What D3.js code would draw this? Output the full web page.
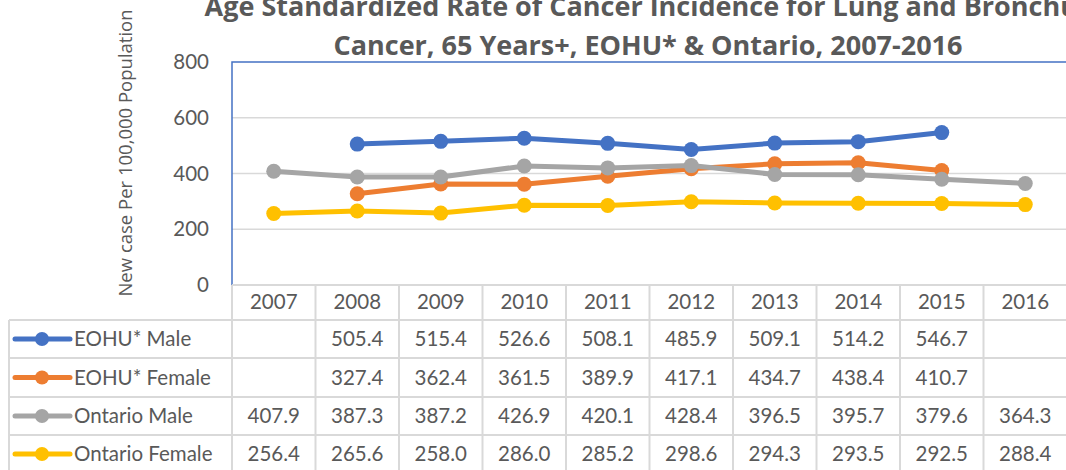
<!DOCTYPE html>
<html>
<head>
<meta charset="utf-8">
<script src="https://cdn.jsdelivr.net/npm/d3@7"></script>
<style>
  body { margin: 0; background: #fff; }
  svg { display: block; }
  .tick text { fill: #595959; }
</style>
</head>
<body>
<div id="chart"></div>
<script>
const years = ['2007', '2008', '2009', '2010', '2011', '2012', '2013', '2014', '2015', '2016'];
const seriesNames = ['EOHU* Male', 'EOHU* Female', 'Ontario Male', 'Ontario Female'];
const seriesColors = ['#4472C4', '#ED7D31', '#A5A5A5', '#FFC000'];
const eohuMale = [null, 505.4, 515.4, 526.6, 508.1, 485.9, 509.1, 514.2, 546.7, null];
const eohuFemale = [null, 327.4, 362.4, 361.5, 389.9, 417.1, 434.7, 438.4, 410.7, null];
const ontarioMale = [407.9, 387.3, 387.2, 426.9, 420.1, 428.4, 396.5, 395.7, 379.6, 364.3];
const ontarioFemale = [256.4, 265.6, 258.0, 286.0, 285.2, 298.6, 294.3, 293.5, 292.5, 288.4];
const yTicks = [0, 200, 400, 600, 800];

const seriesValues = [eohuMale, eohuFemale, ontarioMale, ontarioFemale];

const width = 1066;
const height = 470;
const plot = {left: 232, top: 62, bottom: 285, colW: 83.5};
const rowH = [320, 358, 397, 435, 473];
const textColor = '#595959';
const gridColor = '#d9d9d9';
const bodyFont = 'Lato, "Open Sans", sans-serif';
const bodySize = '20.5px';

const svg = d3.select('#chart').append('svg')
  .attr('width', width)
  .attr('height', height);

// Scales
const xScale = d3.scaleBand()
  .domain(years)
  .range([plot.left, plot.left + plot.colW * years.length]);

const yScale = d3.scaleLinear()
  .domain([0, 800])
  .range([plot.bottom, plot.top]);

// gridlines
svg.append('g')
  .selectAll('line')
  .data(yTicks.filter(d => d > 0 && d < 800))
  .enter().append('line')
  .attr('x1', plot.left)
  .attr('x2', xScale.range()[1])
  .attr('y1', d => yScale(d))
  .attr('y2', d => yScale(d))
  .attr('stroke', gridColor)
  .attr('stroke-width', 1.5);

// plot area border
svg.append('rect')
  .attr('x', plot.left)
  .attr('y', plot.top)
  .attr('width', xScale.range()[1] - plot.left)
  .attr('height', plot.bottom - plot.top)
  .attr('fill', 'none')
  .attr('stroke', '#4472C4')
  .attr('stroke-width', 1.5);

// y axis labels
const yAxis = d3.axisLeft(yScale).tickValues(yTicks).tickSize(0).tickPadding(23);
const yAxisG = svg.append('g')
  .attr('transform', `translate(${plot.left}, 0)`)
  .call(yAxis);
yAxisG.select('.domain').remove();
yAxisG.selectAll('text')
  .style('font-family', bodyFont)
  .style('font-size', bodySize);

// y axis title
svg.append('text')
  .attr('transform', 'rotate(-90)')
  .attr('x', -153)
  .attr('y', 132)
  .attr('text-anchor', 'middle')
  .attr('fill', textColor)
  .style('font-family', '"Open Sans", sans-serif')
  .style('font-size', '18.5px')
  .text('New case Per 100,000 Population');

// Title
const titleLines = ['Age Standardized Rate of Cancer Incidence for Lung and Bronchus', 'Cancer, 65 Years+, EOHU* & Ontario, 2007-2016'];
svg.append('g')
  .selectAll('text')
  .data(titleLines)
  .enter().append('text')
  .attr('x', 648)
  .attr('y', (d, i) => 16 + i * 39)
  .attr('text-anchor', 'middle')
  .attr('fill', textColor)
  .style('font-family', '"Open Sans", sans-serif')
  .style('font-weight', 'bold')
  .style('font-size', '27px')
  .text(d => d);

// Data table grid
const tableRight = xScale.range()[1];
const grid = svg.append('g')
  .attr('stroke', gridColor)
  .attr('stroke-width', 2);

grid.append('line')
  .attr('x1', plot.left).attr('x2', tableRight)
  .attr('y1', plot.bottom).attr('y2', plot.bottom);

grid.selectAll('.hline')
  .data(rowH)
  .enter().append('line')
  .attr('x1', 9).attr('x2', tableRight)
  .attr('y1', d => d).attr('y2', d => d);

grid.selectAll('.vline')
  .data(years.concat(['end']))
  .enter().append('line')
  .attr('x1', (d, i) => plot.left + i * plot.colW)
  .attr('x2', (d, i) => plot.left + i * plot.colW)
  .attr('y1', plot.bottom)
  .attr('y2', height);

grid.append('line')
  .attr('x1', 9).attr('x2', 9)
  .attr('y1', rowH[0]).attr('y2', height);

// year header
const xAxis = d3.axisBottom(xScale).tickSize(0).tickPadding(0);
const xAxisG = svg.append('g')
  .attr('transform', `translate(0, 302)`)
  .call(xAxis);
xAxisG.select('.domain').remove();
xAxisG.selectAll('text')
  .attr('y', 0)
  .attr('dy', '0.36em')
  .style('font-family', bodyFont)
  .style('font-size', bodySize);

// rows
const rowCenter = i => (rowH[i] + rowH[i + 1]) / 2;

seriesNames.forEach((name, i) => {
  const cy = rowCenter(i);
  const row = svg.append('g');

  row.append('line')
    .attr('x1', 15).attr('x2', 70)
    .attr('y1', cy).attr('y2', cy)
    .attr('stroke', seriesColors[i])
    .attr('stroke-width', 5)
    .attr('stroke-linecap', 'round');
  row.append('circle')
    .attr('cx', 42).attr('cy', cy).attr('r', 7)
    .attr('fill', seriesColors[i]);
  row.append('text')
    .attr('x', 74).attr('y', cy)
    .attr('dy', '0.36em')
    .attr('fill', textColor)
    .style('font-family', bodyFont)
    .style('font-size', bodySize)
    .text(name);

  row.selectAll('.val')
    .data(seriesValues[i])
    .enter().append('text')
    .attr('x', (d, j) => xScale(years[j]) + xScale.bandwidth() / 2)
    .attr('y', cy)
    .attr('dy', '0.36em')
    .attr('text-anchor', 'middle')
    .attr('fill', textColor)
    .style('font-family', bodyFont)
    .style('font-size', bodySize)
    .text(d => d == null ? '' : d.toFixed(1));
});

// lines
const line = d3.line()
  .defined(d => d.v != null)
  .x(d => xScale(d.year) + xScale.bandwidth() / 2)
  .y(d => yScale(d.v));

const seriesData = seriesValues.map(vals => vals.map((v, j) => ({year: years[j], v})));

const seriesG = svg.append('g')
  .selectAll('g')
  .data(seriesData)
  .enter().append('g');

seriesG.append('path')
  .attr('d', d => line(d))
  .attr('fill', 'none')
  .attr('stroke', (d, i) => seriesColors[i])
  .attr('stroke-width', 5)
  .attr('stroke-linejoin', 'round');

seriesG.each(function(d, i) {
  d3.select(this).selectAll('circle')
    .data(d.filter(p => p.v != null))
    .enter().append('circle')
    .attr('cx', p => xScale(p.year) + xScale.bandwidth() / 2)
    .attr('cy', p => yScale(p.v))
    .attr('r', 7.5)
    .attr('fill', seriesColors[i]);
});
</script>
</body>
</html>
